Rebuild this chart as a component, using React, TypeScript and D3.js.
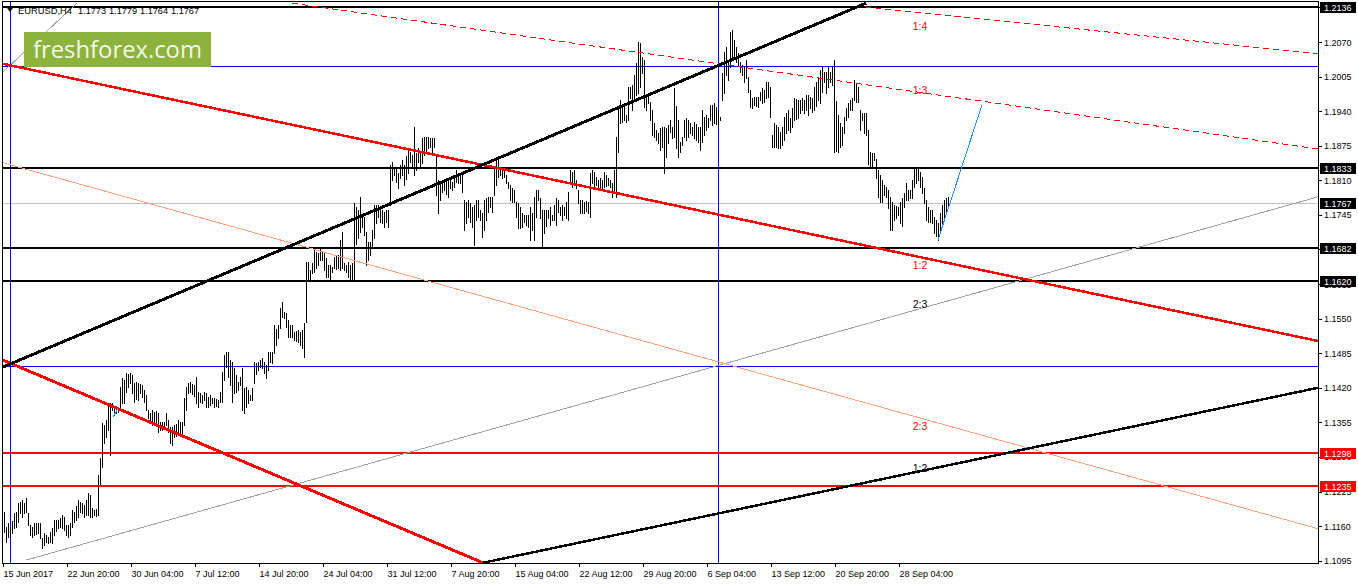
import React, { useEffect, useRef } from 'react'
import * as d3 from 'd3'

const W = 1358
const H = 584
const headerWords = ['EURUSD,H4', '1.1773', '1.1779', '1.1764', '1.1767']

// H4 bars from 15 Jun 2017, highs and lows in pips above 1.1000
const barHighPips = [
  186,158,166,158,170,185,186,203,205,209,203,213,185,162,158,166,165,166,166,138,
  147,143,139,149,156,171,172,171,175,181,177,162,162,166,190,186,197,209,205,203,
  200,209,222,218,194,190,192,256,288,354,350,359,391,391,391,384,386,384,421,438,
  435,448,446,448,444,429,431,429,427,425,416,406,378,373,378,374,376,373,356,356,
  356,373,359,346,346,350,352,359,356,356,401,421,429,431,427,425,440,412,410,406,
  412,410,403,406,401,401,399,397,412,450,482,487,487,472,468,457,444,431,440,457,
  420,421,416,406,420,468,466,468,472,476,468,463,487,487,487,538,530,538,570,581,
  562,561,547,538,538,525,527,529,525,529,542,656,656,641,655,679,676,673,685,675,
  675,664,651,651,647,666,668,670,698,713,655,651,656,651,655,767,760,754,779,745,
  741,713,694,694,717,764,764,764,758,754,750,754,754,839,844,835,835,824,839,848,
  839,855,871,863,858,910,861,871,861,890,891,891,891,890,890,890,858,811,805,811,
  811,812,814,811,807,816,829,824,824,826,773,770,773,767,760,764,773,773,754,749,
  773,776,779,779,779,835,852,852,833,833,835,820,807,801,796,792,769,767,760,749,
  745,745,745,760,749,779,792,792,777,754,754,754,754,760,745,764,777,773,760,764,
  760,770,788,829,826,829,811,792,773,773,769,771,769,824,829,826,816,811,814,811,
  826,820,814,811,805,829,891,946,961,948,952,933,985,985,989,1008,1030,1070,1068,1042,
  1036,970,974,957,942,918,905,899,908,910,910,908,914,923,910,984,950,923,882,891,
  923,927,923,918,910,920,915,910,910,942,929,933,927,952,952,955,948,942,929,1012,
  1051,1061,1032,1089,1093,1074,1060,1049,1032,1027,1023,1036,1004,980,965,967,966,967,976,984,
  980,995,995,985,895,918,914,910,901,910,929,937,942,927,946,965,963,961,961,965,
  961,970,970,967,965,985,994,1002,1017,1023,1014,1014,1023,1014,1023,1036,960,933,918,910,
  929,946,955,961,965,999,992,985,942,937,937,937,905,863,861,861,850,829,820,811,
  801,797,792,779,769,764,762,760,769,776,786,805,792,792,811,835,835,835,826,816,
  796,773,760,754,754,741,735,730,749,764,773,777,779,
]
const barLowPips = [
  149,130,139,139,147,156,158,168,185,177,185,186,162,143,139,143,145,147,138,119,
  124,130,128,130,128,143,150,156,158,156,153,143,139,143,158,168,172,177,186,185,
  177,181,181,177,177,181,179,181,237,271,316,327,341,294,378,369,372,374,378,391,
  391,412,421,429,410,393,399,397,410,403,393,378,363,354,350,356,352,337,341,341,
  344,350,337,316,312,327,330,335,331,331,350,378,410,412,408,405,391,384,393,391,
  397,384,384,388,391,384,386,384,393,393,435,459,440,425,393,410,412,416,425,378,
  373,384,391,397,397,429,445,453,459,457,448,438,453,468,467,485,500,514,532,553,
  551,534,515,515,515,510,508,506,500,495,478,544,623,623,636,638,645,651,660,660,
  641,628,628,623,638,645,643,645,641,645,641,638,628,623,623,623,690,702,713,722,
  707,651,660,670,685,702,730,741,732,730,722,732,722,764,811,820,807,796,814,820,
  801,812,824,844,833,820,829,844,833,843,858,865,871,873,863,873,782,749,773,788,
  792,785,779,796,792,797,807,805,805,788,717,730,741,732,722,688,735,741,735,703,
  717,735,750,760,750,782,801,816,820,814,816,805,796,773,769,769,741,720,720,722,
  732,726,722,698,717,698,741,773,739,685,711,725,739,726,735,735,726,750,745,735,
  745,740,735,807,797,801,796,767,749,749,749,752,749,741,805,796,801,797,792,796,
  797,800,801,797,779,792,779,863,918,920,923,920,923,965,942,961,970,974,985,1012,
  948,942,955,923,895,891,885,880,867,873,824,854,880,901,890,891,870,854,863,876,
  891,886,891,899,895,890,886,882,867,882,895,905,910,923,914,918,916,914,923,961,
  974,1008,999,1023,1036,1040,1032,1027,1014,1008,995,1002,976,948,946,952,950,948,961,955,
  957,965,967,929,873,873,872,871,871,876,886,899,905,901,910,923,925,927,937,942,
  937,942,933,946,938,942,950,961,955,976,995,974,985,995,989,863,865,863,873,876,
  899,923,929,942,942,961,958,957,905,923,899,895,840,835,835,848,815,779,770,769,
  782,779,758,717,717,735,740,745,730,725,760,773,773,777,777,797,805,811,797,786,
  767,735,732,732,730,711,705,698,717,730,735,749,764,
]

const timeTickBars = [0, 32, 64, 96, 128, 160, 192, 224, 256, 288, 320, 352, 384, 416, 448]
const timeTickLabels = [
  '15 Jun 2017', '22 Jun 20:00', '30 Jun 04:00', '7 Jul 12:00', '14 Jul 20:00',
  '24 Jul 04:00', '31 Jul 12:00', '7 Aug 20:00', '15 Aug 04:00', '22 Aug 12:00',
  '29 Aug 20:00', '6 Sep 04:00', '13 Sep 12:00', '20 Sep 20:00', '28 Sep 04:00',
]
const priceTicks = [
  1.1095, 1.1160, 1.1225, 1.1290, 1.1355, 1.1420, 1.1485, 1.1550, 1.1615,
  1.1680, 1.1745, 1.1810, 1.1875, 1.1940, 1.2005, 1.2070, 1.2135,
]

const blackLevels = [1.2136, 1.1833, 1.1682, 1.1620]
const redLevels = [1.1298, 1.1235]
const blueLevels = [1.2025, 1.1461]
const bidPrice = 1.1767
const blueVerticalBars = [3, 357]

// trend lines: [bar, price, bar, price]
const redFan1x1 = [-0.5, 1.1472, 239.5, 1.1091]
const redFan1x2 = [-0.5, 1.2029, 657, 1.1508]
const redFan2x3 = [-0.5, 1.1843, 657, 1.1155]
const redFan1x3 = [144, 1.2143, 657, 1.1869]
const redFan1x4 = [430.5, 1.2136, 657, 1.2048]
const blackFan1x1 = [-0.5, 1.1459, 431, 1.2143]
const blackFan1x2 = [239.5, 1.1091, 657, 1.1420]
const grayFan2x3 = [11, 1.1096, 657, 1.1779]
const grayFanSteep = [-0.5, 1.2014, 36.5, 1.2143]
const projections = [
  [467, 1.1698, 489, 1.1952],
  [54.75, 1.1366, 57.25, 1.1384],
]

const fanLabelBar = 458
const fanLabels = ['1:4', '1:3', '1:2', '2:3', '2:3', '1:2']
const fanLabelPrices = [1.2101, 1.1979, 1.1650, 1.1578, 1.1349, 1.1269]
const fanLabelIsRed = [true, true, true, false, true, false]

const FONT = "'Liberation Sans', Arial, sans-serif"

export default function App() {
  const svgRef = useRef<SVGSVGElement>(null)

  useEffect(() => {
    if (!svgRef.current) return
    const svg = d3.select(svgRef.current)
    svg.selectAll('*').remove()

    const plot = { left: 3, top: 2, right: 1318, bottom: 563 }
    const x = d3.scaleLinear().domain([0, 657]).range([4, 1318])
    const y = d3.scaleLinear().domain([1.10906, 1.2149]).range([563, 0])
    const pip = (v: number) => 1.1 + v / 10000

    svg.append('rect').attr('width', W).attr('height', H).attr('fill', '#fff')

    svg.append('defs').append('clipPath').attr('id', 'plotClip')
      .append('rect')
      .attr('x', plot.left).attr('y', plot.top)
      .attr('width', plot.right - plot.left).attr('height', plot.bottom - plot.top)

    const g = svg.append('g').attr('clip-path', 'url(#plotClip)')

    // bid line
    g.append('line')
      .attr('x1', plot.left).attr('x2', plot.right)
      .attr('y1', Math.round(y(bidPrice)) + 0.5).attr('y2', Math.round(y(bidPrice)) + 0.5)
      .attr('stroke', '#c0c0c0').attr('shape-rendering', 'crispEdges')

    // blue horizontal & vertical lines
    g.selectAll('.blueH').data(blueLevels).join('line')
      .attr('x1', plot.left).attr('x2', plot.right)
      .attr('y1', d => Math.round(y(d)) + 0.5).attr('y2', d => Math.round(y(d)) + 0.5)
      .attr('stroke', '#0000ff').attr('shape-rendering', 'crispEdges')
    g.selectAll('.blueV').data(blueVerticalBars).join('line')
      .attr('x1', d => x(d) + 0.5).attr('x2', d => x(d) + 0.5)
      .attr('y1', plot.top).attr('y2', plot.bottom)
      .attr('stroke', '#0000ff').attr('shape-rendering', 'crispEdges')

    // price bars
    g.append('g').selectAll('line').data(barHighPips).join('line')
      .attr('x1', (_, i) => x(i) + 0.5).attr('x2', (_, i) => x(i) + 0.5)
      .attr('y1', d => y(pip(d))).attr('y2', (_, i) => y(pip(barLowPips[i])) + 1)
      .attr('stroke', '#000').attr('stroke-width', 1)
      .attr('shape-rendering', 'crispEdges')

    // horizontal levels
    g.selectAll('.blackH').data(blackLevels).join('line')
      .attr('x1', plot.left).attr('x2', plot.right)
      .attr('y1', d => Math.round(y(d))).attr('y2', d => Math.round(y(d)))
      .attr('stroke', '#000').attr('stroke-width', 2).attr('shape-rendering', 'crispEdges')
    g.selectAll('.redH').data(redLevels).join('line')
      .attr('x1', plot.left).attr('x2', plot.right)
      .attr('y1', d => Math.round(y(d))).attr('y2', d => Math.round(y(d)))
      .attr('stroke', '#ff0000').attr('stroke-width', 2).attr('shape-rendering', 'crispEdges')

    // fan lines
    const seg = (l: number[], color: string, width: number, dash?: string) => {
      const ln = g.append('line')
        .attr('x1', x(l[0])).attr('y1', y(l[1]))
        .attr('x2', x(l[2])).attr('y2', y(l[3]))
        .attr('stroke', color).attr('stroke-width', width)
        .attr('shape-rendering', 'crispEdges')
      if (dash) ln.attr('stroke-dasharray', dash)
    }
    seg(grayFan2x3, '#a0a0a0', 1)
    seg(grayFanSteep, '#a0a0a0', 1)
    seg(redFan2x3, '#ffa07a', 1)
    seg(redFan1x3, '#ff0000', 1, '6,4')
    seg(redFan1x4, '#ff0000', 1, '6,4')
    seg(redFan1x2, '#ff0000', 2.5)
    seg(redFan1x1, '#ff0000', 3)
    seg(blackFan1x2, '#000', 2.5)
    seg(blackFan1x1, '#000', 3)
    projections.forEach(p => seg(p, '#1e90ff', 1))

    // fan labels
    g.selectAll('.fanLabel').data(fanLabels).join('text')
      .attr('x', x(fanLabelBar)).attr('y', (_, i) => y(fanLabelPrices[i]))
      .attr('text-anchor', 'middle').attr('dominant-baseline', 'central')
      .attr('font-family', FONT).attr('font-size', 10.5)
      .attr('fill', (_, i) => (fanLabelIsRed[i] ? '#ff0000' : '#000'))
      .text(d => d)

    // frame
    svg.append('rect')
      .attr('x', plot.left - 0.5).attr('y', plot.top - 0.5)
      .attr('width', plot.right - plot.left + 1).attr('height', plot.bottom - plot.top + 1)
      .attr('fill', 'none').attr('stroke', '#000').attr('shape-rendering', 'crispEdges')

    // right price axis
    const axisR = svg.append('g')
    axisR.selectAll('line').data(priceTicks).join('line')
      .attr('x1', plot.right).attr('x2', plot.right + 4)
      .attr('y1', d => Math.round(y(d)) + 0.5).attr('y2', d => Math.round(y(d)) + 0.5)
      .attr('stroke', '#000').attr('shape-rendering', 'crispEdges')
    axisR.selectAll('text').data(priceTicks).join('text')
      .attr('x', plot.right + 6).attr('y', d => y(d) + 3.5)
      .attr('font-family', FONT).attr('font-size', 9).attr('fill', '#000')
      .text(d => d.toFixed(4))

    const boxes = [
      ...blackLevels.map(v => ({ v, c: '#000' })),
      { v: bidPrice, c: '#000' },
      ...redLevels.map(v => ({ v, c: '#ff0000' })),
    ]
    const boxG = svg.append('g').selectAll('g').data(boxes).join('g')
    boxG.append('rect')
      .attr('x', plot.right + 2).attr('y', d => Math.round(y(d.v)) - 5)
      .attr('width', 36).attr('height', 11).attr('fill', d => d.c)
    boxG.append('text')
      .attr('x', plot.right + 6).attr('y', d => Math.round(y(d.v)) + 4)
      .attr('font-family', FONT).attr('font-size', 9).attr('fill', '#fff')
      .text(d => d.v.toFixed(4))

    // bottom time axis
    const axisB = svg.append('g')
    axisB.selectAll('line').data(timeTickBars).join('line')
      .attr('x1', d => x(d) - 0.5).attr('x2', d => x(d) - 0.5)
      .attr('y1', plot.bottom).attr('y2', plot.bottom + 4)
      .attr('stroke', '#000').attr('shape-rendering', 'crispEdges')
    axisB.selectAll('text').data(timeTickLabels).join('text')
      .attr('x', (_, i) => x(timeTickBars[i]) - 0.5).attr('y', 577)
      .attr('font-family', FONT).attr('font-size', 9).attr('fill', '#000')
      .text(d => d)

    // header: symbol then OHLC of the last bar
    svg.append('path').attr('d', 'M7,8 L13,8 L10,12 Z').attr('fill', '#000')
    const headerX = [18, 78, 109, 140, 171]
    const headerW = [54, 28, 28, 28, 28]
    svg.append('g').selectAll('text').data(headerWords).join('text')
      .attr('x', (_, i) => headerX[i]).attr('y', 14)
      .attr('textLength', (_, i) => headerW[i]).attr('lengthAdjust', 'spacingAndGlyphs')
      .attr('font-family', FONT).attr('font-size', 9.5).attr('fill', '#000')
      .text(d => d)

    // logo
    svg.append('rect').attr('x', 24).attr('y', 32).attr('width', 187).attr('height', 35)
      .attr('fill', '#8db33c')
    svg.append('text')
      .attr('x', 33).attr('y', 57.5)
      .attr('font-family', "'Open Sans', 'DejaVu Sans', sans-serif").attr('font-size', 24)
      .attr('textLength', 169).attr('lengthAdjust', 'spacingAndGlyphs')
      .attr('fill', '#f3f6e8')
      .text('freshforex.com')
  }, [])

  return (
    <svg
      ref={svgRef}
      width={W}
      height={H}
      viewBox={`0 0 ${W} ${H}`}
      style={{ position: 'absolute', left: 0, top: 0, display: 'block' }}
    />
  )
}
